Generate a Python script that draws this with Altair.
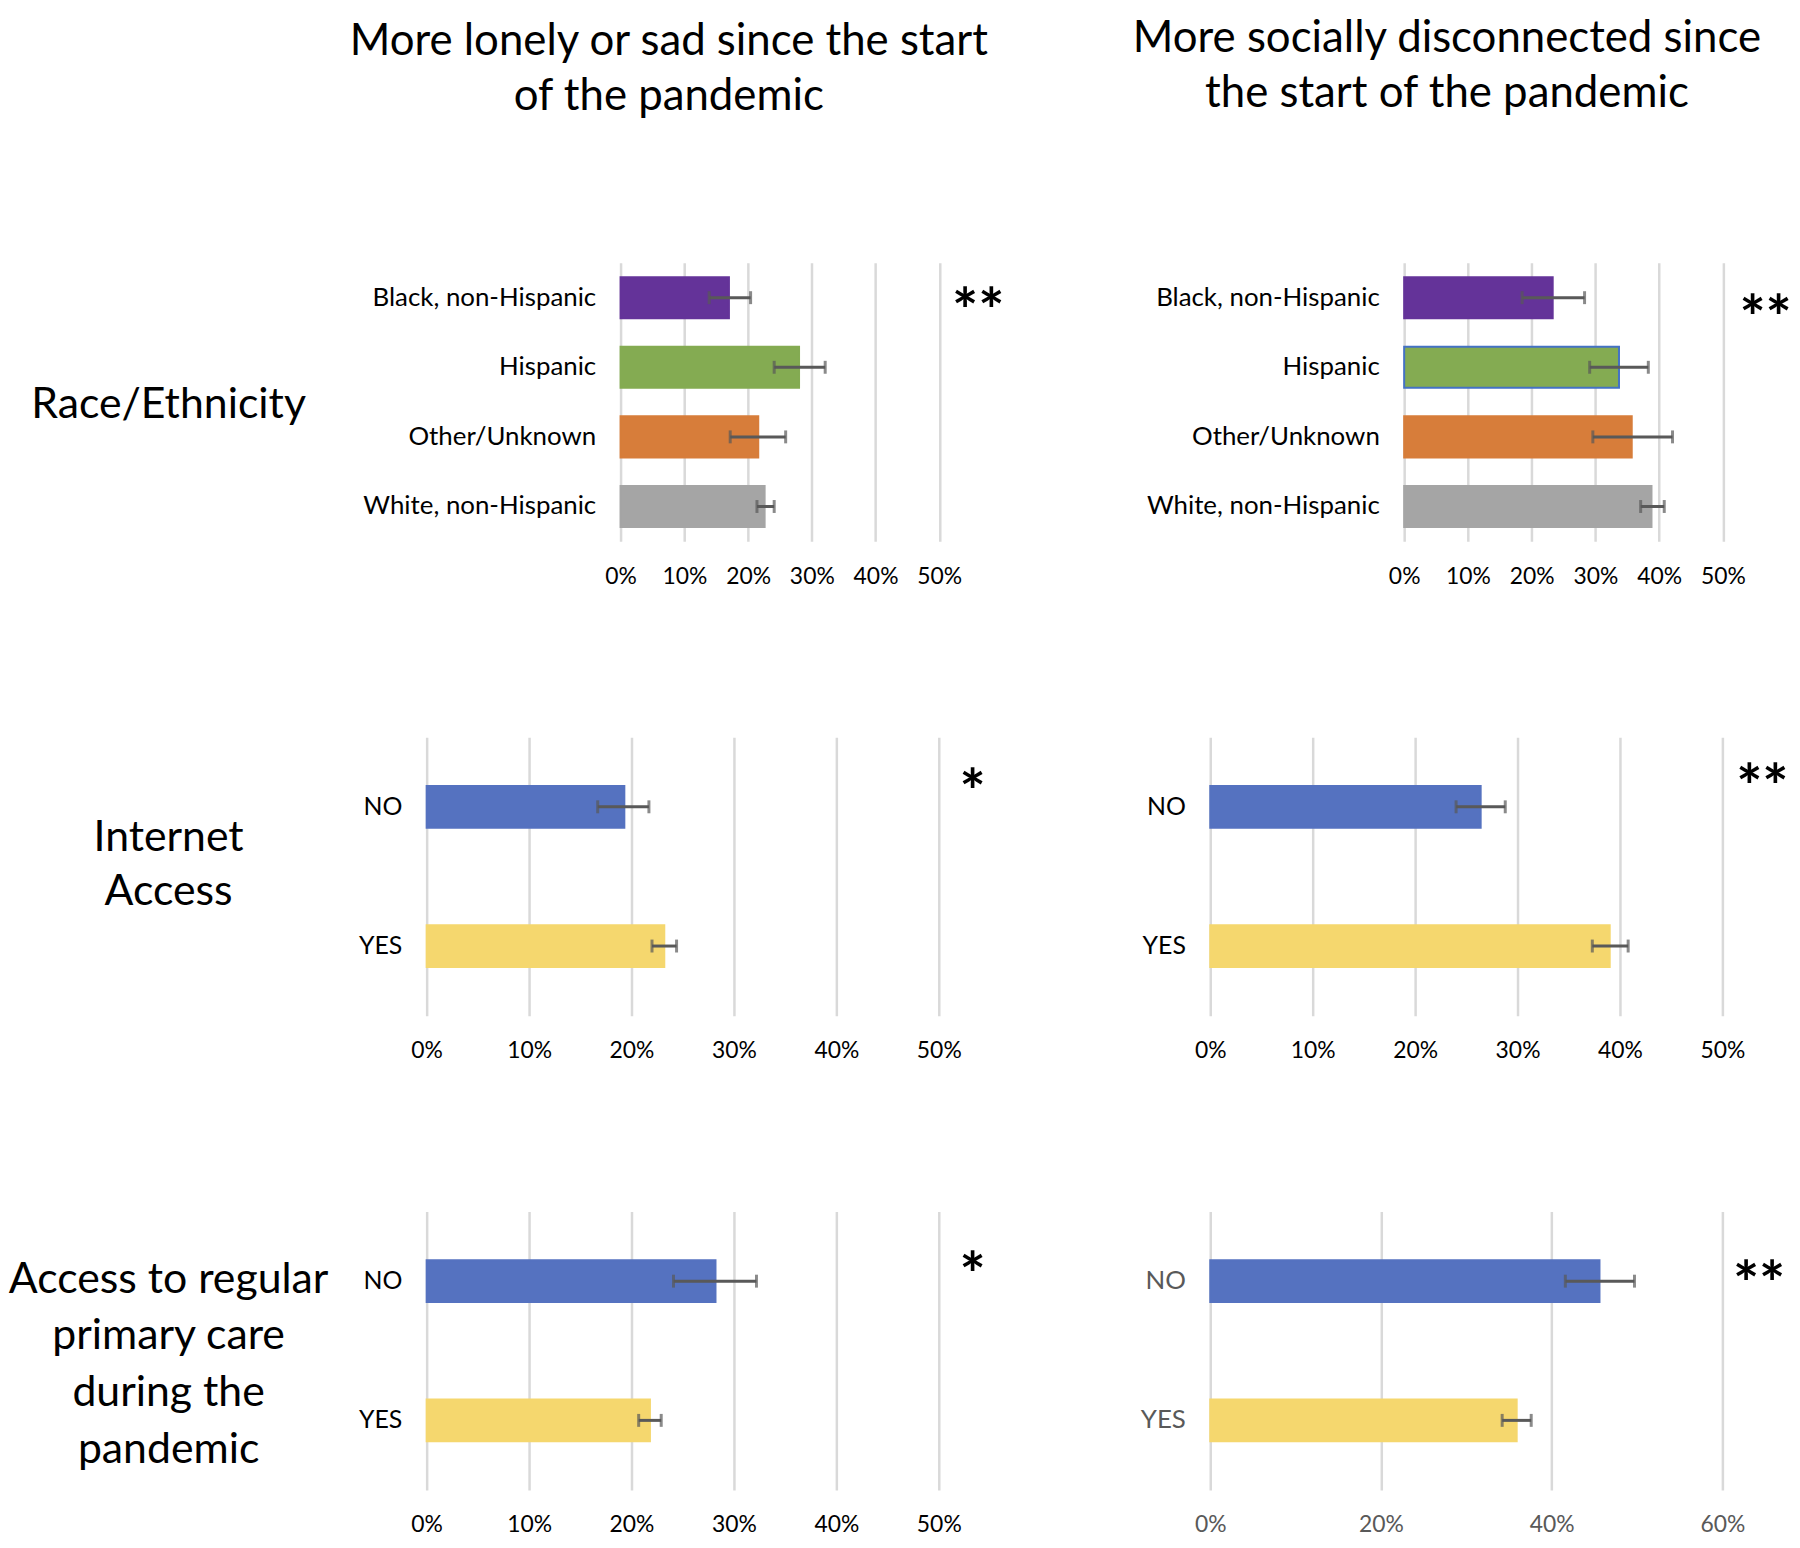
import altair as alt
import pandas as pd

FONT = "Lato"
ERR_COLOR = "#595959"
GRID_COLOR = "#D9D9D9"

# ---------------- text ----------------
COL_TITLES = [
    ["More lonely or sad since the start", "of the pandemic"],
    ["More socially disconnected since", "the start of the pandemic"],
]
ROW_TITLES = [
    ["Race/Ethnicity"],
    ["Internet", "Access"],
    ["Access to regular", "primary care", "during the", "pandemic"],
]

# ---------------- categories ----------------
RACE_CATS = ["Black, non-Hispanic", "Hispanic", "Other/Unknown", "White, non-Hispanic"]
RACE_COLORS = ["#643399", "#84AB52", "#D77D3A", "#A5A5A5"]
YN_CATS = ["NO", "YES"]
YN_COLORS = ["#5572C0", "#F5D76E"]

# ---------------- values (percent) ----------------
LONELY_RACE = [17.0, 28.0, 21.6, 22.6]
LONELY_RACE_LO = [13.9, 24.1, 17.2, 21.4]
LONELY_RACE_HI = [20.4, 32.1, 25.9, 24.1]

DISC_RACE = [23.3, 33.7, 35.7, 38.8]
DISC_RACE_LO = [18.5, 29.1, 29.6, 37.1]
DISC_RACE_HI = [28.3, 38.3, 42.1, 40.8]

LONELY_NET = [19.3, 23.2]
LONELY_NET_LO = [16.7, 22.0]
LONELY_NET_HI = [21.7, 24.4]

DISC_NET = [26.4, 39.0]
DISC_NET_LO = [24.0, 37.3]
DISC_NET_HI = [28.8, 40.8]

LONELY_PC = [28.2, 21.8]
LONELY_PC_LO = [24.1, 20.7]
LONELY_PC_HI = [32.2, 22.9]

DISC_PC = [45.6, 35.9]
DISC_PC_LO = [41.6, 34.2]
DISC_PC_HI = [49.7, 37.6]

SIGNIF = ["**", "**", "*", "**", "*", "**"]

W, H = 515, 280


def panel(cats, colors, strokes, vals, lo, hi, sig, sig_x, sig_dy,
          xmax, step, xrange, yoff, pad, label_color, label_size,
          row_title=None, title_x=0, title_y=0, title_lh=55,
          col_title=None, col_dx=0, col_offset=150):
    df = pd.DataFrame({
        "cat": cats,
        "val": [v / 100 for v in vals],
        "lo": [v / 100 for v in lo],
        "hi": [v / 100 for v in hi],
        "fill": colors,
        "stroke": strokes,
    })
    n_ticks = int(round(xmax / step)) + 1
    xscale = alt.Scale(domain=[0, xmax], range=xrange, nice=False, zero=True)
    xaxis = alt.Axis(
        values=[round(i * step, 4) for i in range(n_ticks)], format=".0%",
        domain=False, ticks=False, grid=True, gridColor=GRID_COLOR, gridWidth=2.5,
        labelFont=FONT, labelFontSize=23, labelColor=label_color,
        labelPadding=24, labelFlush=False, labelOverlap=False, title=None,
    )
    yscale = alt.Scale(domain=cats, paddingInner=pad, paddingOuter=pad / 2)
    yaxis_kw = dict(
        domain=False, ticks=False, grid=False, labelFont=FONT,
        labelFontSize=label_size, labelColor=label_color, labelPadding=25,
        labelLimit=600, offset=yoff,
    )
    if row_title:
        yaxis = alt.Axis(
            title=row_title, titleAngle=0, titleAlign="center",
            titleBaseline="middle", titleX=title_x, titleY=title_y,
            titleFont=FONT, titleFontSize=43, titleFontWeight="normal",
            titleColor="black", titleLineHeight=title_lh, titleLimit=2000,
            **yaxis_kw)
    else:
        yaxis = alt.Axis(title=None, **yaxis_kw)

    y_enc = alt.Y("cat:N", scale=yscale, axis=yaxis, sort=cats)

    base = alt.Chart(df)
    bars = base.mark_bar(strokeWidth=2).encode(
        x=alt.X("val:Q", scale=xscale, axis=xaxis),
        y=y_enc,
        fill=alt.Fill("fill:N", scale=None),
        stroke=alt.Stroke("stroke:N", scale=None),
    )
    rule = base.mark_rule(color=ERR_COLOR, strokeWidth=3).encode(
        x=alt.X("lo:Q", scale=xscale, axis=xaxis), x2="hi:Q", y=y_enc)
    cap_lo = base.mark_tick(color=ERR_COLOR, thickness=3, size=13).encode(
        x=alt.X("lo:Q", scale=xscale, axis=xaxis), y=y_enc)
    cap_hi = base.mark_tick(color=ERR_COLOR, thickness=3, size=13).encode(
        x=alt.X("hi:Q", scale=xscale, axis=xaxis), y=y_enc)

    star_df = pd.DataFrame({"cat": [cats[0]], "sx": [sig_x], "t": [sig]})
    star = alt.Chart(star_df).mark_text(
        font=FONT, fontSize=62, fontWeight="bold", color="black",
        align="center", baseline="middle", dy=sig_dy,
    ).encode(x=alt.X("sx:Q", scale=xscale, axis=xaxis), y=y_enc, text="t:N")

    ch = alt.layer(bars, rule, cap_lo, cap_hi, star).properties(width=W, height=H)
    if col_title:
        ch = ch.properties(title=alt.TitleParams(
            text=col_title, font=FONT, fontSize=44, fontWeight="normal",
            color="black", anchor="middle", frame="group", dx=col_dx,
            offset=col_offset, lineHeight=55))
    return ch


RANGE_TOP = [195, 515.5]
RANGE_FULL = [0, W]

p1 = panel(RACE_CATS, RACE_COLORS, RACE_COLORS, LONELY_RACE, LONELY_RACE_LO,
           LONELY_RACE_HI, SIGNIF[0], 0.561, 17, 0.5, 0.1, RANGE_TOP, -195,
           0.41, "black", 26, row_title=ROW_TITLES[0], title_x=-455,
           title_y=142, col_title=COL_TITLES[0], col_dx=-14, col_offset=145)
p2 = panel(RACE_CATS, RACE_COLORS,
           [RACE_COLORS[0], "#4472C4", RACE_COLORS[2], RACE_COLORS[3]],
           DISC_RACE, DISC_RACE_LO, DISC_RACE_HI, SIGNIF[1], 0.567, 24, 0.5,
           0.1, RANGE_TOP, -195, 0.41, "black", 26,
           col_title=COL_TITLES[1], col_dx=-19.5, col_offset=148)
p3 = panel(YN_CATS, YN_COLORS, YN_COLORS, LONELY_NET, LONELY_NET_LO,
           LONELY_NET_HI, SIGNIF[2], 0.533, -12, 0.5, 0.1, RANGE_FULL, 0,
           0.7, "black", 25, row_title=ROW_TITLES[1], title_x=-260,
           title_y=101, title_lh=54)
p4 = panel(YN_CATS, YN_COLORS, YN_COLORS, DISC_NET, DISC_NET_LO, DISC_NET_HI,
           SIGNIF[3], 0.539, -17, 0.5, 0.1, RANGE_FULL, 0, 0.7, "black", 25)
p5 = panel(YN_CATS, YN_COLORS, YN_COLORS, LONELY_PC, LONELY_PC_LO,
           LONELY_PC_HI, SIGNIF[4], 0.533, -3, 0.5, 0.1, RANGE_FULL, 0,
           0.7, "black", 25, row_title=ROW_TITLES[2], title_x=-260,
           title_y=68, title_lh=57)
p6 = panel(YN_CATS, YN_COLORS, YN_COLORS, DISC_PC, DISC_PC_LO, DISC_PC_HI,
           SIGNIF[5], 0.643, 6, 0.6, 0.2, RANGE_FULL, 0, 0.7, "#595959", 26)

chart = alt.concat(
    p1, p2, p3, p4, p5, p6, columns=2,
    spacing={"row": 197, "column": 273}, bounds="flush",
).properties(
    padding={"left": 0, "top": 5, "right": 0, "bottom": 0},
    background="white",
).configure_view(stroke=None)

chart.save("out.html", embed_options={"renderer": "svg", "actions": False})
